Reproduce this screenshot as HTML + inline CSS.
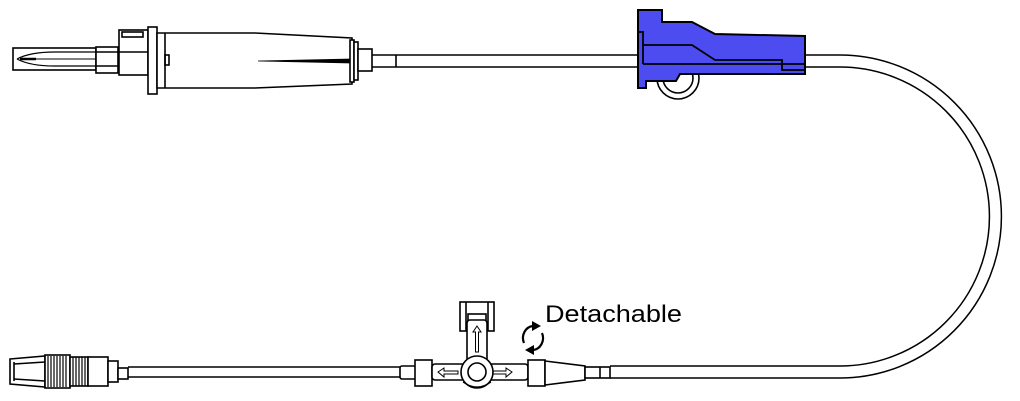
<!DOCTYPE html><html><head><style>body{margin:0;background:#fff}svg{display:block}</style></head><body>
<svg width="1020" height="401" viewBox="0 0 1020 401" xmlns="http://www.w3.org/2000/svg" fill="none" stroke="#000" stroke-width="1.6">
<!-- tubing -->
<path d="M372 55H840A161.5 161.5 0 0 1 840 378H610 M372 67H840A149.5 149.5 0 0 1 840 366H610" stroke-width="1.5"/>
<line x1="396" y1="55" x2="396" y2="67"/>
<!-- spike -->
<rect x="13" y="48" width="83" height="22" fill="#fff"/>
<path d="M17 59 Q30 52 55 52 H96 M17 59 Q30 66 55 66 H96" stroke-width="1.2"/>
<line x1="20" y1="59" x2="36" y2="59" stroke-width="2.5"/>
<line x1="30" y1="59" x2="96" y2="59" stroke-width="1"/>
<rect x="96" y="47" width="22" height="26" fill="#fff"/>
<line x1="96" y1="52" x2="118" y2="52"/><line x1="96" y1="66" x2="118" y2="66"/>
<rect x="119" y="30" width="29" height="45" fill="#fff"/>
<rect x="122" y="32" width="21" height="5"/>
<line x1="119" y1="52" x2="148" y2="52"/>
<rect x="148" y="27" width="9" height="67" fill="#fff"/>
<path d="M157 33H255L352 38V84L255 88H157Z" fill="#fff"/>
<line x1="165" y1="33" x2="165" y2="88"/>
<rect x="165" y="55" width="4" height="10"/>
<path d="M258 61L350 59V63Z" fill="#000" stroke-width="0.8"/>
<rect x="350" y="40" width="4" height="42" fill="#fff"/>
<rect x="354" y="42" width="4" height="38" fill="#fff"/>
<rect x="358" y="49" width="14" height="22" fill="#fff"/>
<!-- roller wheel -->
<circle cx="678" cy="78" r="21" fill="#fff"/><circle cx="678" cy="78" r="15"/>
<!-- clamp -->
<path d="M638 10H662V22H692L715 34L805 36V74H680L676 81H646V88H638Z" fill="#4c4cf0" stroke-width="2"/>
<path d="M638 32H643V64 M643 45H692L715 60H782V70H805 M643 64H805" stroke-width="1.8"/>
<!-- bottom luer -->
<path d="M10 359L45 356V387L10 384Z" fill="#fff"/>
<line x1="14" y1="362" x2="14" y2="381"/><line x1="14" y1="364" x2="45" y2="362"/><line x1="14" y1="379" x2="45" y2="381"/>
<rect x="45" y="355" width="25" height="33" fill="#fff"/>
<path d="M48 356V387M51 356V387M54 356V387M57 356V387M60 356V387M63 356V387M66 356V387" stroke-width="1.2"/>
<rect x="70" y="357" width="18" height="29" fill="#fff"/>
<path d="M73 357V386M76 357V386M79 357V386M82 357V386M85 357V386" stroke-width="1.2"/>
<rect x="88" y="357" width="20" height="29" fill="#fff"/>
<rect x="108" y="361" width="10" height="21" fill="#fff"/>
<rect x="118" y="368" width="10" height="11" fill="#fff"/>
<path d="M128 367H405M128 377H405"/>
<!-- stopcock -->
<rect x="400" y="366" width="16" height="13" rx="2" fill="#fff"/>
<rect x="415" y="360" width="17" height="26" fill="#fff"/>
<rect x="432" y="364" width="96" height="16" rx="3" fill="#fff"/>
<path d="M438 372L444 368V371H458V374H444V377Z M512 372L506 368V371H492V374H506V377Z" stroke-width="1"/>
<rect x="460" y="302" width="34" height="29" fill="#fff"/>
<line x1="466" y1="302" x2="466" y2="331"/><line x1="488" y1="302" x2="488" y2="331"/>
<rect x="468" y="314" width="18" height="7"/>
<rect x="467" y="320" width="20" height="42" rx="3" fill="#fff"/>
<path d="M477 326L473 332H475.5V352H478.5V332H481Z" stroke-width="1"/>
<circle cx="477" cy="372" r="16" fill="#fff"/><circle cx="477" cy="372" r="9"/>
<path d="M463 382Q477 392 491 382" stroke-width="1.2"/>
<rect x="528" y="360" width="17" height="26" fill="#fff"/>
<path d="M545 361L585 366V380L545 385Z" fill="#fff"/>
<rect x="585" y="367" width="25" height="11" fill="#fff"/>
<line x1="600" y1="367" x2="600" y2="378"/>
<!-- rotate arrows -->
<path d="M524 343A11 12 0 0 1 533 326 M542 333A11 12 0 0 1 533 350" stroke-width="2.2"/>
<path d="M532 321L541 326L532 331Z M534 345L525 350L534 355Z" fill="#000" stroke="none"/>
<text x="545" y="322" font-family="Liberation Sans, sans-serif" font-size="24" textLength="137" lengthAdjust="spacingAndGlyphs" fill="#000" stroke="none">Detachable</text>
</svg></body></html>
